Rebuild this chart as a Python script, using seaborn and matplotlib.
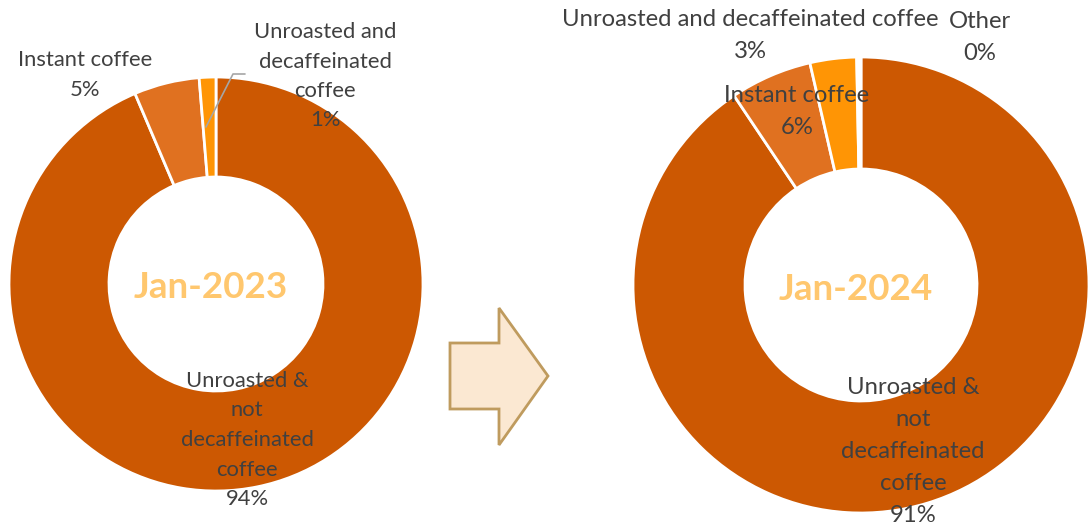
import matplotlib

matplotlib.use("Agg")
import matplotlib.pyplot as plt
import seaborn as sns
from matplotlib.patches import Polygon

sns.set_theme(style="white")
plt.rcParams["font.family"] = ["Lato", "DejaVu Sans"]

# Данные
periods = ["Jan-2023", "Jan-2024"]
cats_2023 = ["Unroasted &\nnot\ndecaffeinated\ncoffee", "Instant coffee", "Unroasted and\ndecaffeinated\ncoffee"]
vals_2023 = [93.6, 5.1, 1.3]
cats_2024 = ["Unroasted &\nnot\ndecaffeinated\ncoffee", "Instant coffee", "Unroasted and decaffeinated coffee", "Other"]
vals_2024 = [90.6, 5.8, 3.3, 0.3]

colors = ["#CC5802", "#E07120", "#FF9505", "#FFFFFF"]
text_color = "#404040"
center_color = "#FFC76E"

W, H = 1089, 526
fig = plt.figure(figsize=(W / 100, H / 100), dpi=100)
ax = fig.add_axes([0, 0, 1, 1])


def py(y):
    # пиксельная координата сверху -> координата данных снизу
    return H - y


# левый и правый пончики
donuts = [
    dict(vals=vals_2023, cats=cats_2023, c=(216, 284), r=207, w=100, fs=15.8,
         pos=[(247, 381, 29.5), (85, 60, 30), (325, 32, 29.5)]),
    dict(vals=vals_2024, cats=cats_2024, c=(861, 285), r=228, w=112, fs=17.2,
         pos=[(913, 387, 32), (797, 95, 32.5), (750, 20, 32), (980, 22, 31)]),
]

for d, period in zip(donuts, periods):
    ax.pie(
        d["vals"],
        colors=colors[: len(d["vals"])],
        startangle=90,
        counterclock=False,
        center=(d["c"][0], py(d["c"][1])),
        radius=d["r"],
        wedgeprops=dict(width=d["w"], edgecolor="white", linewidth=2),
    )
    for cat, v, (x, y0, step) in zip(d["cats"], d["vals"], d["pos"]):
        lines = cat.split("\n") + [f"{v:.0f}%"]
        for i, line in enumerate(lines):
            ax.text(x, py(y0 + i * step), line, ha="center", va="center",
                    fontsize=d["fs"], color=text_color)
    ax.text(d["c"][0] - 5, py(d["c"][1] + 4), period, ha="center", va="center",
            fontsize=26.5, fontweight="bold", color=center_color)

# выноска для маленького сегмента
ax.plot([245, 233, 206], [py(74), py(74), py(127)], color="#A6A6A6", lw=1.2)

# стрелка между диаграммами
arrow = [(450, 343), (499, 343), (499, 308), (548, 376), (499, 445), (499, 409), (450, 409)]
ax.add_patch(Polygon([(x, py(y)) for x, y in arrow], closed=True,
                     facecolor="#FBE8D2", edgecolor="#BF9B5E", lw=2))

ax.set_xlim(0, W)
ax.set_ylim(0, H)
ax.set_aspect("auto")
ax.axis("off")

fig.savefig("out.png", dpi=100)
